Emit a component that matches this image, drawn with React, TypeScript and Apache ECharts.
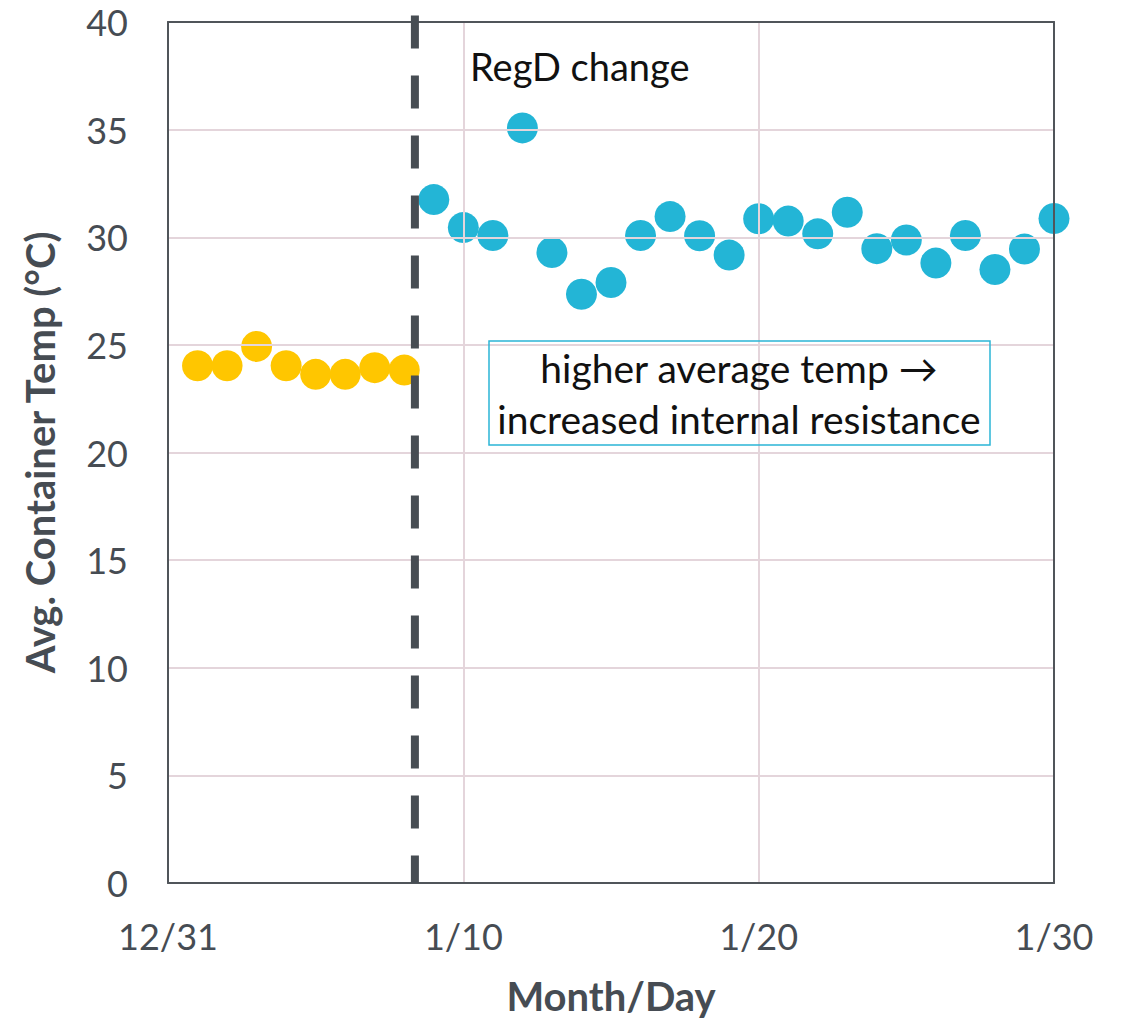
import React, { useEffect, useRef } from "react";
import * as echarts from "echarts";

const xTickValues = [0, 10, 20, 30];
const xTickLabels = ["12/31", "1/10", "1/20", "1/30"];

const beforeDays = [1, 2, 3, 4, 5, 6, 7, 8];
const beforeTemps = [24.03, 24.03, 24.93, 24.03, 23.63, 23.63, 23.94, 23.83];

const afterDays = [9, 10, 11, 12, 13, 14, 15, 16, 17, 18, 19, 20, 21, 22, 23, 24, 25, 26, 27, 28, 29, 30];
const afterTemps = [
  31.75, 30.45, 30.08, 35.08, 29.29, 27.35, 27.9, 30.08, 30.96, 30.07, 29.17,
  30.86, 30.75, 30.16, 31.16, 29.47, 29.87, 28.8, 30.08, 28.5, 29.45, 30.87,
];

const regdChangeDay = 8.36;
const dividerTemps = [40.3, 0];

const TEXT = "#464C53";
const BORDER = "#50555A";
const GRIDLINE = "#E4D5DB";
const FONT = "Lato, 'Open Sans', sans-serif";

export default function App() {
  const ref = useRef<HTMLDivElement>(null);
  useEffect(() => {
    if (!ref.current) return;
    const chart = echarts.init(ref.current, null, { renderer: "svg" });
    const frameAxis = {
      type: "value",
      min: 0,
      axisLine: { show: true, onZero: false, lineStyle: { color: BORDER, width: 2 } },
      axisTick: { show: false },
      axisLabel: { show: false },
      splitLine: { show: false },
      z: 4,
    };
    chart.setOption({
      animation: false,
      backgroundColor: "#ffffff",
      textStyle: { fontFamily: FONT },
      grid: {
        left: 168,
        top: 22,
        right: 69,
        bottom: 141,
      },
      xAxis: [
        {
          type: "value",
          min: 0,
          max: 30,
          interval: 10,
          name: "Month/Day",
          nameLocation: "middle",
          nameGap: 93,
          nameTextStyle: { color: TEXT, fontSize: 40, fontWeight: "bold", fontFamily: FONT },
          axisLine: { show: true, onZero: false, lineStyle: { color: BORDER, width: 2 } },
          axisTick: { show: false },
          axisLabel: {
            color: TEXT,
            fontSize: 36,
            fontFamily: FONT,
            margin: 35,
            formatter: (v: number) => {
              const i = xTickValues.indexOf(v);
              return i >= 0 ? xTickLabels[i] : "";
            },
          },
          splitLine: { show: true, lineStyle: { color: GRIDLINE, width: 2 } },
          z: 4,
        },
        { ...frameAxis, max: 30, position: "top" },
      ],
      yAxis: [
        {
          type: "value",
          min: 0,
          max: 40,
          interval: 5,
          name: "Avg. Container Temp (°C)",
          nameLocation: "middle",
          nameGap: 108,
          nameRotate: 90,
          nameTextStyle: { color: TEXT, fontSize: 40, fontWeight: "bold", fontFamily: FONT },
          axisLine: { show: true, onZero: false, lineStyle: { color: BORDER, width: 2 } },
          axisTick: { show: false },
          axisLabel: { color: TEXT, fontSize: 36, lineHeight: 34, fontFamily: FONT, margin: 40 },
          splitLine: { show: true, lineStyle: { color: GRIDLINE, width: 2 } },
          z: 4,
        },
        { ...frameAxis, max: 40, position: "right" },
      ],
      series: [
        {
          type: "scatter",
          data: beforeDays.map((d, i) => [d, beforeTemps[i]]),
          symbolSize: 31,
          itemStyle: { color: "#FFC600", opacity: 1 },
          z: 3,
        },
        {
          type: "scatter",
          data: afterDays.map((d, i) => [d, afterTemps[i]]),
          symbolSize: 31,
          itemStyle: { color: "#23B5D6", opacity: 1 },
          z: 3,
        },
        {
          type: "line",
          data: dividerTemps.map((t) => [regdChangeDay, t]),
          symbol: "none",
          clip: false,
          lineStyle: { color: "#474D53", width: 8, type: [33, 27] },
          z: 5,
        },
      ],
      graphic: [
        {
          type: "text",
          x: 470,
          y: 66,
          style: {
            text: "RegD change",
            fill: "#111111",
            fontSize: 38,
            fontFamily: FONT,
            verticalAlign: "middle",
            align: "left",
          },
          z: 10,
        },
        {
          type: "rect",
          shape: { x: 489, y: 341, width: 501, height: 104 },
          style: { fill: "transparent", stroke: "#2BB5D6", lineWidth: 1.5 },
          z: 10,
        },
        {
          type: "text",
          x: 739,
          y: 393,
          style: {
            text: "higher average temp \u2192\nincreased internal resistance",
            fill: "#111111",
            fontSize: 39,
            lineHeight: 51,
            fontFamily: FONT,
            align: "center",
            verticalAlign: "middle",
          },
          z: 10,
        },
      ],
    });
    return () => chart.dispose();
  }, []);
  return (
    <div
      ref={ref}
      style={{ position: "fixed", left: 0, top: 0, width: 1123, height: 1024 }}
    />
  );
}
